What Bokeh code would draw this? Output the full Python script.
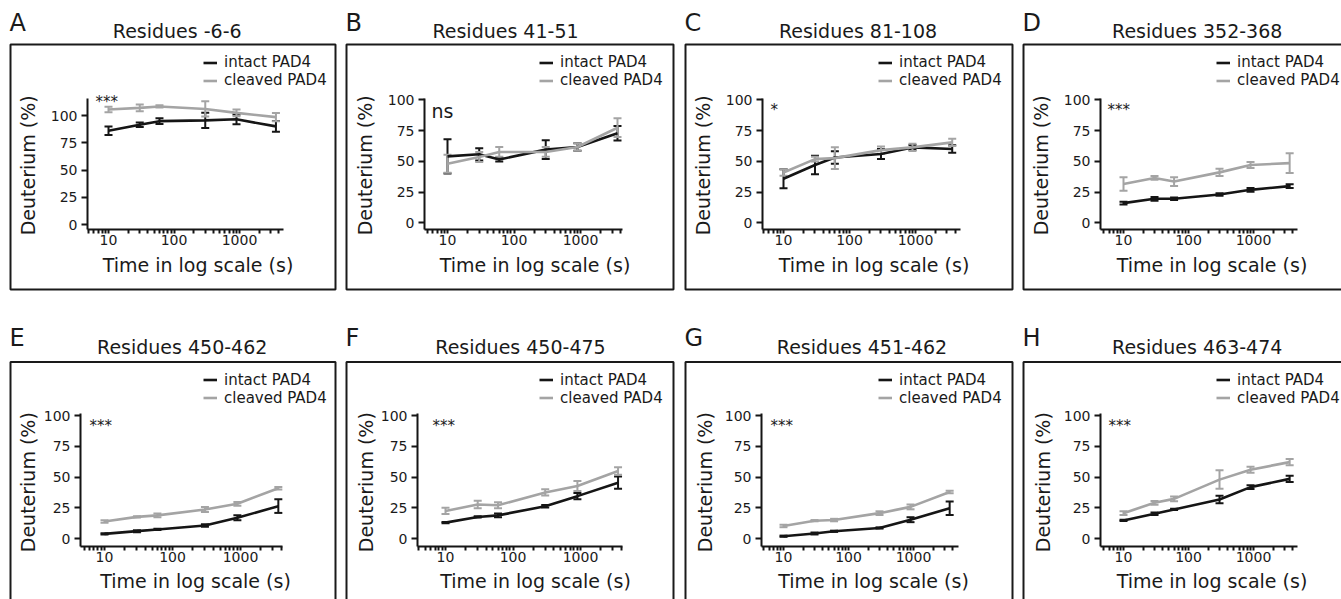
import math
from bokeh.plotting import figure
from bokeh.models import (ColumnDataSource, Whisker, TeeHead, Legend, LegendItem,
                          Label, BoxAnnotation, FixedTicker, Range1d)
from bokeh.layouts import gridplot
from bokeh.embed import file_html
from bokeh.resources import INLINE

# ---------------- data ----------------
times = [10, 30, 60, 300, 900, 3600]
x_ticks = [10, 100, 1000]
x_tick_labels = ["10", "100", "1000"]
y_ticks = [0, 25, 50, 75, 100]
series_names = ["intact PAD4", "cleaved PAD4"]
x_title = "Time in log scale (s)"
y_title = "Deuterium (%)"
panel_letters = ["A", "B", "C", "D", "E", "F", "G", "H"]
panel_titles = ["Residues -6-6", "Residues 41-51", "Residues 81-108", "Residues 352-368",
                "Residues 450-462", "Residues 450-475", "Residues 451-462", "Residues 463-474"]
significance = ["***", "ns", "*", "***", "***", "***", "***", "***"]

a_intact = [86, 91.5, 94.8, 95.5, 96.5, 90]
a_intact_err = [3.8, 2, 2.6, 7, 4.5, 5]
a_cleaved = [105.5, 107, 108.3, 106, 102.4, 98.5]
a_cleaved_err = [2.6, 3, 1, 7, 3, 3.7]

b_intact = [54, 55.7, 51.4, 59.5, 61.6, 72.8]
b_intact_err = [14, 5, 1.5, 7.7, 3, 5.8]
b_cleaved = [48, 53.5, 57.6, 57.6, 61.6, 77.3]
b_cleaved_err = [7.4, 4, 4, 4, 3, 7.6]

c_intact = [35.8, 47, 53.1, 55.9, 61.3, 60]
c_intact_err = [7.8, 7.5, 5, 4, 2, 3]
c_cleaved = [40.9, 51.8, 52.6, 59.1, 61.3, 65.4]
c_cleaved_err = [2.7, 2, 8.8, 3, 3, 3]

d_intact = [16.0, 19.5, 19.5, 23.0, 26.8, 29.8]
d_intact_err = [1.2, 1.5, 1, 1, 1.5, 1.5]
d_cleaved = [31.5, 36.5, 33.5, 41, 47, 48.5]
d_cleaved_err = [5.5, 1.5, 3.5, 3, 2.5, 8]

e_intact = [4.0, 6.2, 7.6, 10.8, 17.0, 26.5]
e_intact_err = [0.5, 0.8, 0.5, 1, 2, 5.5]
e_cleaved = [14.0, 17.8, 19.0, 23.8, 28.4, 41.0]
e_cleaved_err = [1, 0.5, 1.5, 2, 1.5, 1]

f_intact = [13.1, 17.7, 19.0, 26.4, 34.6, 45.5]
f_intact_err = [0.5, 0.5, 1.5, 1, 2.5, 5]
f_cleaved = [22.6, 27.8, 27.2, 37.6, 42.8, 55.0]
f_cleaved_err = [2.5, 3, 2.5, 2.5, 4, 3]

g_intact = [2.1, 4.3, 6.1, 8.8, 15.5, 24.8]
g_intact_err = [0.5, 0.8, 0.5, 0.5, 2, 5.5]
g_cleaved = [10.4, 14.7, 15.2, 20.8, 25.9, 37.9]
g_cleaved_err = [1, 0.5, 1, 1.5, 2, 1]

h_intact = [14.9, 20.3, 23.8, 31.9, 41.9, 48.6]
h_intact_err = [0.5, 1, 0.5, 3, 1.5, 2.5]
h_cleaved = [20.8, 29.2, 32.4, 48.0, 56.0, 62.2]
h_cleaved_err = [1.5, 1.5, 2, 7.5, 2.5, 2.5]

intact_all = [a_intact, b_intact, c_intact, d_intact, e_intact, f_intact, g_intact, h_intact]
intact_err_all = [a_intact_err, b_intact_err, c_intact_err, d_intact_err,
                  e_intact_err, f_intact_err, g_intact_err, h_intact_err]
cleaved_all = [a_cleaved, b_cleaved, c_cleaved, d_cleaved, e_cleaved, f_cleaved, g_cleaved, h_cleaved]
cleaved_err_all = [a_cleaved_err, b_cleaved_err, c_cleaved_err, d_cleaved_err,
                   e_cleaved_err, f_cleaved_err, g_cleaved_err, h_cleaved_err]

# ---------------- layout (page pixels) ----------------
COL_LEFT = [0, 340, 679, 1017]
COL_W = [340, 339, 338, 324]
ROW_TOP = [0, 325]
ROW_H = [325, 274]
BOX_L = [10, 346, 685, 1023]
BOX_R = [335, 673, 1012, 1352]
BOX_T = [44, 361.5]
BOX_B = [289, 650]
FRAME_T = [98, 413]
FRAME_B = [229, 546]
FL = [87, 424, 762, 1100, 80, 417, 761, 1100]
T10 = [108, 447, 783, 1123, 104, 445, 783, 1123]
T1000 = [239, 580, 915, 1253, 240, 580, 913, 1253]
AXIS_END = [283, 622, 960, 1297, 282, 622, 958, 1297]
XLAB_C = [197.5, 534.5, 873.5, 1211.5, 195, 535, 873, 1211.5]
XLAB_BL = [271.7, 587.5]
YLAB_BL = [35, 372, 710, 1048, 35, 372.7, 712, 1050]
YLAB_C = [164.8, 481.7]
Y100 = [115, 99.3, 99.3, 99.3, 415, 415, 415, 415]
Y0 = [224, 222.3, 222.3, 222.3, 538.3, 538.3, 538.3, 538.3]
TITLE_C = [176.7, 505, 857.5, 1196.7, 181.7, 520, 861.5, 1196.7]
TITLE_BL = [37.3, 353.3]
LETTER_BL = [31.5, 347]
NOTE_X = [95, 431, 770, 1107, 89, 432, 770, 1108]
NOTE_BL = [107, 117.3, 115, 115.3, 431.6, 431.6, 431.6, 431.6]

FONT = "DejaVu Sans"
BLACK = "#151515"
GREY = "#a4a4a4"
TXT = "#1a1a1a"
BASELINE_FIX = 0.38   # renderer places label text this many em below the requested baseline


def make_panel(i):
    r, c = divmod(i, 4)
    fig_l, fig_t = COL_LEFT[c], ROW_TOP[r]
    fig_w, fig_h = COL_W[c], ROW_H[r]
    fig_b = fig_t + fig_h
    dec = (T1000[i] - T10[i]) / 2.0
    scale = (Y0[i] - Y100[i]) / 100.0

    def xdata(px):
        return 10 ** (1 + (px - T10[i]) / dec)

    def ydata(py):
        return (Y0[i] - py) / scale

    p = figure(width=fig_w, height=fig_h, x_axis_type="log",
               x_range=Range1d(xdata(fig_l), xdata(fig_l + fig_w)),
               y_range=Range1d(ydata(fig_b), ydata(fig_t)),
               output_backend="svg", toolbar_location=None, title_location=None,
               min_border_left=0, min_border_right=0,
               min_border_top=0, min_border_bottom=0)
    p.outline_line_color = None
    p.grid.visible = False
    p.background_fill_color = "white"
    p.border_fill_color = "white"

    x0, x1 = xdata(FL[i]), xdata(AXIS_END[i])
    y0, y1 = ydata(FRAME_B[r]), ydata(FRAME_T[r])

    for ax in (p.xaxis[0], p.yaxis[0]):
        ax.axis_line_width = 2
        ax.axis_line_color = BLACK
        ax.major_tick_line_width = 2
        ax.major_tick_line_color = BLACK
        ax.major_tick_in = 0
        ax.minor_tick_in = 0
        ax.major_label_text_font = FONT
        ax.major_label_text_font_size = "14px"
        ax.major_label_text_color = TXT

    xa = p.xaxis[0]
    minor = [m * 10 ** e for e in range(0, 4) for m in range(2, 10)]
    minor = [t for t in minor if x0 <= t <= x1]
    xa.ticker = FixedTicker(ticks=x_ticks, minor_ticks=minor)
    xa.major_label_overrides = {t: s for t, s in zip(x_ticks, x_tick_labels)}
    xa.fixed_location = y0
    xa.bounds = (x0, x1)
    xa.major_tick_out = 4
    xa.minor_tick_out = 4
    xa.minor_tick_line_width = 2
    xa.minor_tick_line_color = BLACK
    xa.major_label_standoff = 1

    ya = p.yaxis[0]
    ya.ticker = FixedTicker(ticks=y_ticks)
    ya.fixed_location = x0
    ya.bounds = (y0, y1)
    ya.major_tick_out = 6
    ya.minor_tick_out = 0
    ya.major_label_standoff = 4

    def sx(px):
        return px - fig_l

    def sy(py):
        return fig_b - py

    # panel box
    p.add_layout(BoxAnnotation(left=sx(BOX_L[c]), right=sx(BOX_R[c]),
                               top=sy(BOX_T[r]), bottom=sy(BOX_B[r]),
                               left_units="screen", right_units="screen",
                               top_units="screen", bottom_units="screen",
                               fill_alpha=0, line_color="#1a1a1a", line_alpha=1.0,
                               line_width=2))

    renderers = []
    for vals, errs, col in ((intact_all[i], intact_err_all[i], BLACK),
                            (cleaved_all[i], cleaved_err_all[i], GREY)):
        src = ColumnDataSource(dict(t=times, v=vals,
                                    lo=[v - e for v, e in zip(vals, errs)],
                                    hi=[v + e for v, e in zip(vals, errs)]))
        rl = p.line("t", "v", source=src, line_color=col, line_width=2.6)
        p.add_layout(Whisker(base="t", lower="lo", upper="hi", source=src,
                             line_color=col, line_width=2,
                             lower_head=TeeHead(size=8, line_color=col, line_width=2),
                             upper_head=TeeHead(size=8, line_color=col, line_width=2)))
        renderers.append(rl)

    leg = Legend(items=[LegendItem(label=series_names[0], renderers=[renderers[0]]),
                        LegendItem(label=series_names[1], renderers=[renderers[1]])],
                 location=(sx(BOX_L[c] + 193), sy(BOX_T[r] + 45.3)),
                 padding=0, margin=0, spacing=0, glyph_width=14, glyph_height=17,
                 label_height=17, label_standoff=7, border_line_color=None,
                 background_fill_alpha=0, label_text_font=FONT,
                 label_text_font_size="15px", label_text_color=TXT)
    p.add_layout(leg)

    def lab(text, x, y, size, align="left", angle=0):
        fix = BASELINE_FIX * size
        if angle:
            x, y = x - fix, y
        else:
            y = y - fix
        p.add_layout(Label(x=sx(x), y=sy(y), x_units="screen", y_units="screen",
                           text=text, text_font=FONT, text_font_size=f"{size}px",
                           text_color=TXT, text_align=align, angle=angle,
                           text_baseline="alphabetic"))

    lab(panel_letters[i], BOX_L[c] - 1, LETTER_BL[r], 24)
    lab(panel_titles[i], TITLE_C[i], TITLE_BL[r], 19, "center")
    lab(x_title, XLAB_C[i], XLAB_BL[r], 19, "center")
    lab(y_title, YLAB_BL[i], YLAB_C[r], 19, "center", math.pi / 2)
    sig = significance[i]
    lab(sig, NOTE_X[i], NOTE_BL[i], 19 if sig == "ns" else 15)
    return p


panels = [make_panel(i) for i in range(8)]
grid = gridplot([panels[:4], panels[4:]], toolbar_location=None)

open("out.html", "w").write(file_html(grid, INLINE))
